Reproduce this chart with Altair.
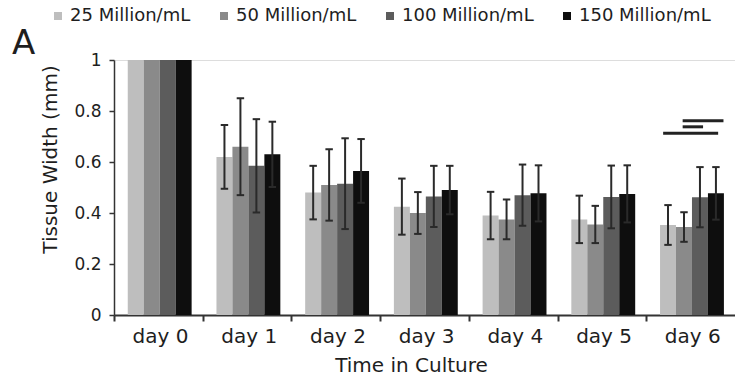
import altair as alt
import pandas as pd

days = ["day 0", "day 1", "day 2", "day 3", "day 4", "day 5", "day 6"]
series = ["25 Million/mL", "50 Million/mL", "100 Million/mL", "150 Million/mL"]

mean_25 = [1.0, 0.62, 0.48, 0.425, 0.39, 0.375, 0.353]
mean_50 = [1.0, 0.66, 0.51, 0.40, 0.375, 0.355, 0.345]
mean_100 = [1.0, 0.585, 0.515, 0.465, 0.47, 0.463, 0.462]
mean_150 = [1.0, 0.63, 0.565, 0.49, 0.477, 0.475, 0.477]

sd_25 = [0.0, 0.125, 0.105, 0.11, 0.093, 0.093, 0.078]
sd_50 = [0.0, 0.19, 0.14, 0.082, 0.078, 0.073, 0.058]
sd_100 = [0.0, 0.183, 0.178, 0.12, 0.12, 0.123, 0.118]
sd_150 = [0.0, 0.128, 0.125, 0.095, 0.11, 0.112, 0.103]

# significance brackets over day 6 (x in day units, y in mm)
sig_x1 = [6.41, 6.41, 6.19]
sig_x2 = [6.87, 6.64, 6.81]
sig_y = [0.762, 0.738, 0.713]

colors = ["#bebebe", "#8a8a8a", "#5c5c5c", "#0e0e0e"]

means = [mean_25, mean_50, mean_100, mean_150]
sds = [sd_25, sd_50, sd_100, sd_150]
rows = []
for si, s in enumerate(series):
    for di, d in enumerate(days):
        rows.append({"day": d, "di": di, "series": s, "si": si,
                     "mean": means[si][di], "sd": sds[si][di]})
df = pd.DataFrame(rows)
sig = pd.DataFrame({"x1": sig_x1, "x2": sig_x2, "y": sig_y})

FONT = "DejaVu Sans"
TXT = "#1e1e1e"
BW = 0.18  # bar width in day units

base = alt.Chart(df).transform_calculate(
    pos=f"datum.di + 0.515 + (datum.si - 1.5) * {BW}",
    lo="datum.mean - datum.sd",
    hi="datum.mean + datum.sd",
)

xscale = alt.Scale(domain=[0, 7], nice=False, zero=False)
yscale = alt.Scale(domain=[0, 1], nice=False)

xaxis = alt.Axis(
    values=[0, 1, 2, 3, 4, 5, 6],
    labelExpr="'day ' + datum.value",
    labelOffset=46, labelFlush=False, labelFont=FONT, labelFontSize=20,
    labelColor=TXT, labelPadding=5, labelOverlap=False,
    tickSize=6, tickWidth=2, tickColor="#333333",
    domainColor="#333333", domainWidth=2, grid=False,
    title="Time in Culture", titleFont=FONT, titleFontSize=20,
    titleFontWeight="normal", titleColor=TXT, titleX=297, titlePadding=9,
)
yaxis = alt.Axis(
    values=[0, 0.2, 0.4, 0.6, 0.8, 1.0],
    labelExpr="format(datum.value, '.1~f')",
    labelFont=FONT, labelFontSize=17, labelColor=TXT, labelPadding=8,
    tickSize=5, tickWidth=1.5, tickColor="#333333",
    domainColor="#333333", domainWidth=1.5, grid=False,
    title="Tissue Width (mm)", titleFont=FONT, titleFontSize=20,
    titleFontWeight="normal", titleColor=TXT, titleX=-64, titleY=99,
    titleBaseline="middle",
)

bars = base.mark_bar(stroke=None).encode(
    x=alt.X("x1:Q", scale=xscale, axis=xaxis),
    x2="x2:Q",
    y=alt.Y("mean:Q", scale=yscale, axis=yaxis),
    y2=alt.datum(0),
    color=alt.Color(
        "series:N",
        scale=alt.Scale(domain=series, range=colors),
        legend=alt.Legend(
            title=None, orient="none", legendX=-65, legendY=-53,
            direction="horizontal", columns=4, columnPadding=24,
            symbolType="square", symbolSize=64, symbolStrokeWidth=0,
            labelFont=FONT, labelFontSize=18, labelColor=TXT,
            labelOffset=3, padding=0,
        ),
    ),
).transform_calculate(
    x1=f"datum.pos - {BW / 2}", x2=f"datum.pos + {BW / 2}"
)

err_base = base.transform_filter("datum.sd > 0")
ERR = "#2a2a2a"
stems = err_base.mark_rule(color=ERR, strokeWidth=2).encode(
    x="pos:Q", y="lo:Q", y2="hi:Q"
)
caps_hi = err_base.transform_calculate(
    c1="datum.pos - 0.042", c2="datum.pos + 0.042"
).mark_rule(color=ERR, strokeWidth=2).encode(
    x="c1:Q", x2="c2:Q", y="hi:Q"
)
caps_lo = err_base.transform_calculate(
    c1="datum.pos - 0.042", c2="datum.pos + 0.042"
).mark_rule(color=ERR, strokeWidth=2).encode(
    x="c1:Q", x2="c2:Q", y="lo:Q"
)

sig_lines = alt.Chart(sig).mark_rule(color="#222222", strokeWidth=3).encode(
    x="x1:Q", x2="x2:Q", y="y:Q"
)

chart = alt.layer(bars, stems, caps_hi, caps_lo, sig_lines).properties(
    width=621, height=255,
    title=alt.TitleParams(
        "A", anchor="start", frame="group", font=FONT, fontSize=34,
        fontWeight="normal", color=TXT, dx=-102, dy=81, offset=0,
        baseline="alphabetic",
    ),
    autosize=alt.AutoSizeParams(type="none"),
    padding={"left": 114, "top": 60, "right": 0, "bottom": 66},
).configure_view(stroke=None).configure(background="white")

chart.save("out.html", embed_options={"renderer": "svg", "actions": False})
